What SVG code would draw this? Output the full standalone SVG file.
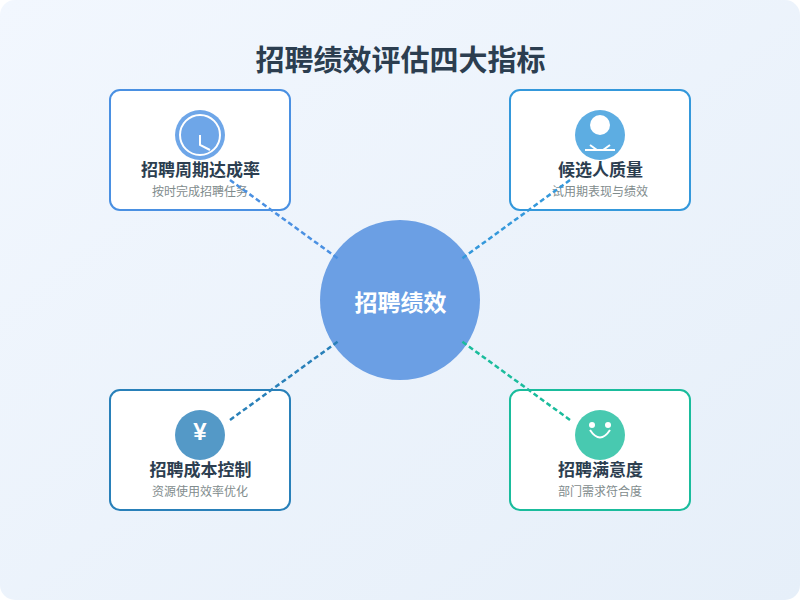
<svg xmlns="http://www.w3.org/2000/svg" width="800" height="600" viewBox="0 0 800 600">
<defs>
<linearGradient id="bg" x1="0" y1="0" x2="1" y2="1"><stop offset="0" stop-color="#f2f7fe"/><stop offset="1" stop-color="#e6eff9"/></linearGradient>
</defs>
<style>
text{font-family:"Liberation Sans","Noto Sans CJK SC",sans-serif;text-anchor:middle}
.box{fill:#fff;stroke-width:2}
.t{font-size:17px;font-weight:700;fill:#2c3e50}
.s{font-size:12px;fill:#7f8c8d}
.c{fill:none;stroke-width:2.5;stroke-dasharray:5 3}
.w{fill:none;stroke:#fff;stroke-width:2}
.ic{opacity:.8}
</style>
<rect width="800" height="600" rx="15" fill="url(#bg)"/>
<text x="400.5" y="71" fill="#2c3e50" style="font-size:29px;font-weight:700">招聘绩效评估四大指标</text>
<g id="node-tl"><rect class="box" x="110" y="90" width="180" height="120" rx="10" stroke="#4a90e2"/>
<circle class="ic" cx="200" cy="135" r="25" fill="#4a90e2"/>
<circle class="w" cx="200" cy="135" r="20"/><path class="w" d="M200 135V145L210 150"/>
<text class="t" x="200.5" y="176">招聘周期达成率</text><text class="s" x="200" y="196">按时完成招聘任务</text></g>
<g id="node-tr"><rect class="box" x="510" y="90" width="180" height="120" rx="10" stroke="#3498db"/>
<circle class="ic" cx="600" cy="135" r="25" fill="#3498db"/>
<circle cx="600" cy="125" r="10" fill="#fff"/><path class="w" d="M585 150H615M590 145L597 150M610 145L603 150"/>
<text class="t" x="600.5" y="176">候选人质量</text><text class="s" x="600" y="196">试用期表现与绩效</text></g>
<g id="node-bl"><rect class="box" x="110" y="390" width="180" height="120" rx="10" stroke="#2980b9"/>
<circle class="ic" cx="200" cy="435" r="25" fill="#2980b9"/>
<text x="200" y="440" style="font-size:24px;font-weight:700" fill="#fff">¥</text>
<text class="t" x="200.5" y="476">招聘成本控制</text><text class="s" x="200" y="496">资源使用效率优化</text></g>
<g id="node-br"><rect class="box" x="510" y="390" width="180" height="120" rx="10" stroke="#1abc9c"/>
<circle class="ic" cx="600" cy="435" r="25" fill="#1abc9c"/>
<circle cx="592" cy="425" r="3" fill="#fff"/><circle cx="608" cy="425" r="3" fill="#fff"/><path class="w" d="M590 430Q600 445 610 430"/>
<text class="t" x="600.5" y="476">招聘满意度</text><text class="s" x="600" y="496">部门需求符合度</text></g>
<g id="node-center"><circle cx="400" cy="300" r="80" fill="#6b9fe4"/>
<text x="400.5" y="311" style="font-size:23px;font-weight:700" fill="#fff">招聘绩效</text></g>
<g id="connectors">
<line class="c" x1="230" y1="180" x2="340" y2="260" stroke="#4a90e2"/>
<line class="c" x1="570" y1="180" x2="460" y2="260" stroke="#3498db"/>
<line class="c" x1="230" y1="420" x2="340" y2="340" stroke="#2980b9"/>
<line class="c" x1="570" y1="420" x2="460" y2="340" stroke="#1abc9c"/>
</g>
</svg>
